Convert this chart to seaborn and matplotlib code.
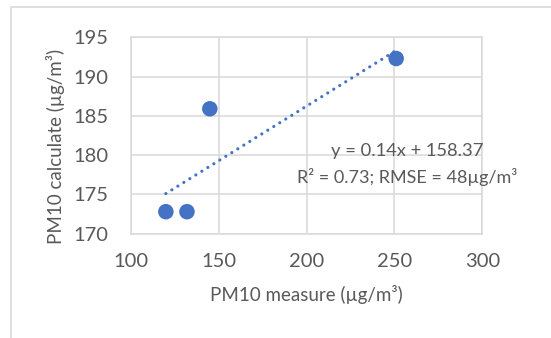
import matplotlib
matplotlib.use("Agg")
import matplotlib.pyplot as plt
from matplotlib.patches import Rectangle
import seaborn as sns
import pandas as pd

# Data
measure = [120, 132, 145, 251]
calculate = [172.8, 172.8, 185.9, 192.3]
x_ticks = [100, 150, 200, 250, 300]
y_ticks = [170, 175, 180, 185, 190, 195]
x_label = "PM10 measure (µg/m³)"
y_label = "PM10 calculate (µg/m³)"
eq_line1 = "y = 0.14x + 158.37"
eq_line2 = "R² = 0.73; RMSE = 48µg/m³"

df = pd.DataFrame({"measure": measure, "calculate": calculate})

sns.set_theme(style="white")
plt.rcParams["font.family"] = ["Lato", "DejaVu Sans"]

TXT = "#595959"
GRID = "#d9d9d9"
BLUE = "#4472C4"

W, H = 551, 338
fig = plt.figure(figsize=(W / 100, H / 100), dpi=100)
fig.patch.set_facecolor("white")

# outer chart frame (partly cut off at right and bottom)
fig.patches.append(Rectangle((11 / W, -0.1), 1.2, (H - 7) / H + 0.1,
                             transform=fig.transFigure, fill=False,
                             edgecolor=GRID, linewidth=1.2))

ax = fig.add_axes([130.7 / W, (H - 233.7) / H, 351.6 / W, 196.4 / H])

sns.regplot(data=df, x="measure", y="calculate", ax=ax, ci=None,
            scatter_kws=dict(s=125, color=BLUE, edgecolor="none", alpha=1, zorder=3),
            line_kws=dict(color=BLUE, linewidth=2.3, linestyle=(0, (0.01, 2.2)),
                          dash_capstyle="round", zorder=4))

ax.set_xlim(100, 300)
ax.set_ylim(170, 195)
ax.set_xticks(x_ticks)
ax.set_yticks(y_ticks)
ax.set_xticklabels([str(t) for t in x_ticks])
ax.set_yticklabels([str(t) for t in y_ticks])
ax.grid(True, color=GRID, linewidth=1.1)
ax.set_axisbelow(True)
for s in ax.spines.values():
    s.set_visible(True)
    s.set_color(GRID)
    s.set_linewidth(1.1)
ax.tick_params(axis="both", length=0, labelsize=14.5, colors=TXT)
ax.tick_params(axis="y", pad=16)
ax.tick_params(axis="x", pad=14)

ax.set_xlabel(x_label, fontsize=13.5, color=TXT)
ax.set_ylabel(y_label, fontsize=13.5, color=TXT)
ax.xaxis.set_label_coords(0.5, -0.312)
ax.xaxis.label.set_va("center")
ax.yaxis.set_label_coords(-0.215, 0.4435)
ax.yaxis.label.set_va("center")

cx = (407 - 130.7) / 351.6
ax.text(cx, (233.7 - 150.7) / 196.4, eq_line1, transform=ax.transAxes,
        ha="center", va="center", fontsize=13.2, color=TXT, zorder=5)
ax.text(cx, (233.7 - 176.7) / 196.4, eq_line2, transform=ax.transAxes,
        ha="center", va="center", fontsize=13.0, color=TXT, zorder=5, clip_on=False)

fig.savefig("out.png", dpi=100)
